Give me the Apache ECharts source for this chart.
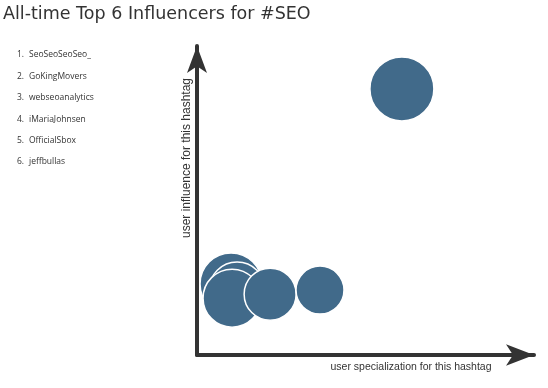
<!DOCTYPE html>
<html><head><meta charset="utf-8">
<script src="https://cdn.jsdelivr.net/npm/echarts@6/dist/echarts.min.js"></script>
<style>html,body{margin:0;padding:0;background:#fff}#c{width:548px;height:388px}</style>
</head><body><div id="c"></div>
<script>
const titleText = 'All-time Top 6 Influencers for #SEO';
const users = ['SeoSeoSeoSeo_', 'GoKingMovers', 'webseoanalytics', 'iMariaJohnsen', 'OfficialSbox', 'jeffbullas'];
// specialization (x), influence (y), bubble diameter
const specialization = [60.8, 10.1, 11.9, 10.4, 21.7, 36.5];
const influence = [86.1, 23.0, 21.0, 18.4, 19.7, 21.0];
const bubbleSize = [64, 62, 56, 58, 52, 48];
const xName = 'user specialization for this hashtag';
const yName = 'user influence for this hashtag';

const data = users.map((u, i) => ({ name: u, value: [specialization[i], influence[i]], symbolSize: bubbleSize[i] }));

const chart = echarts.init(document.getElementById('c'));
const graphics = [];
users.forEach((u, i) => {
  graphics.push({ type: 'text', x: 17, y: 55 + i * 21.4,
    style: { text: (i + 1) + '.', fill: '#333', font: '8.5px "Open Sans"', verticalAlign: 'middle' } });
  graphics.push({ type: 'text', x: 29, y: 55 + i * 21.4,
    style: { text: u, fill: '#333', font: '8.5px "Open Sans"', verticalAlign: 'middle' } });
});
graphics.push({ type: 'text', x: 411, y: 367, style: { text: xName, fill: '#333', font: '10.5px "Liberation Sans"', align: 'center', verticalAlign: 'middle' } });
graphics.push({ type: 'text', x: 187, y: 158, rotation: Math.PI / 2, style: { text: yName, fill: '#333', font: '12px "Liberation Sans"', align: 'center', verticalAlign: 'middle' } });
graphics.push({ type: 'text', x: 3, y: 14, style: { text: titleText, fill: '#333', font: '17.5px "DejaVu Sans"', verticalAlign: 'middle' } });

chart.setOption({
  animation: false,
  grid: { left: 197, right: 14, top: 46, bottom: 33 },
  xAxis: { type: 'value', min: 0, max: 100, splitLine: { show: false }, axisTick: { show: false }, axisLabel: { show: false },
    axisLine: { show: true, lineStyle: { color: '#333', width: 4 }, symbol: ['none', 'arrow'], symbolSize: [16, 28] } },
  yAxis: { type: 'value', min: 0, max: 100, splitLine: { show: false }, axisTick: { show: false }, axisLabel: { show: false },
    axisLine: { show: true, lineStyle: { color: '#333', width: 4 }, symbol: ['none', 'arrow'], symbolSize: [15, 27] } },
  graphic: graphics,
  series: [{ type: 'scatter', data: data, itemStyle: { color: '#416a8a', opacity: 1, borderColor: '#fff', borderWidth: 1.5 } }]
});
</script></body></html>
